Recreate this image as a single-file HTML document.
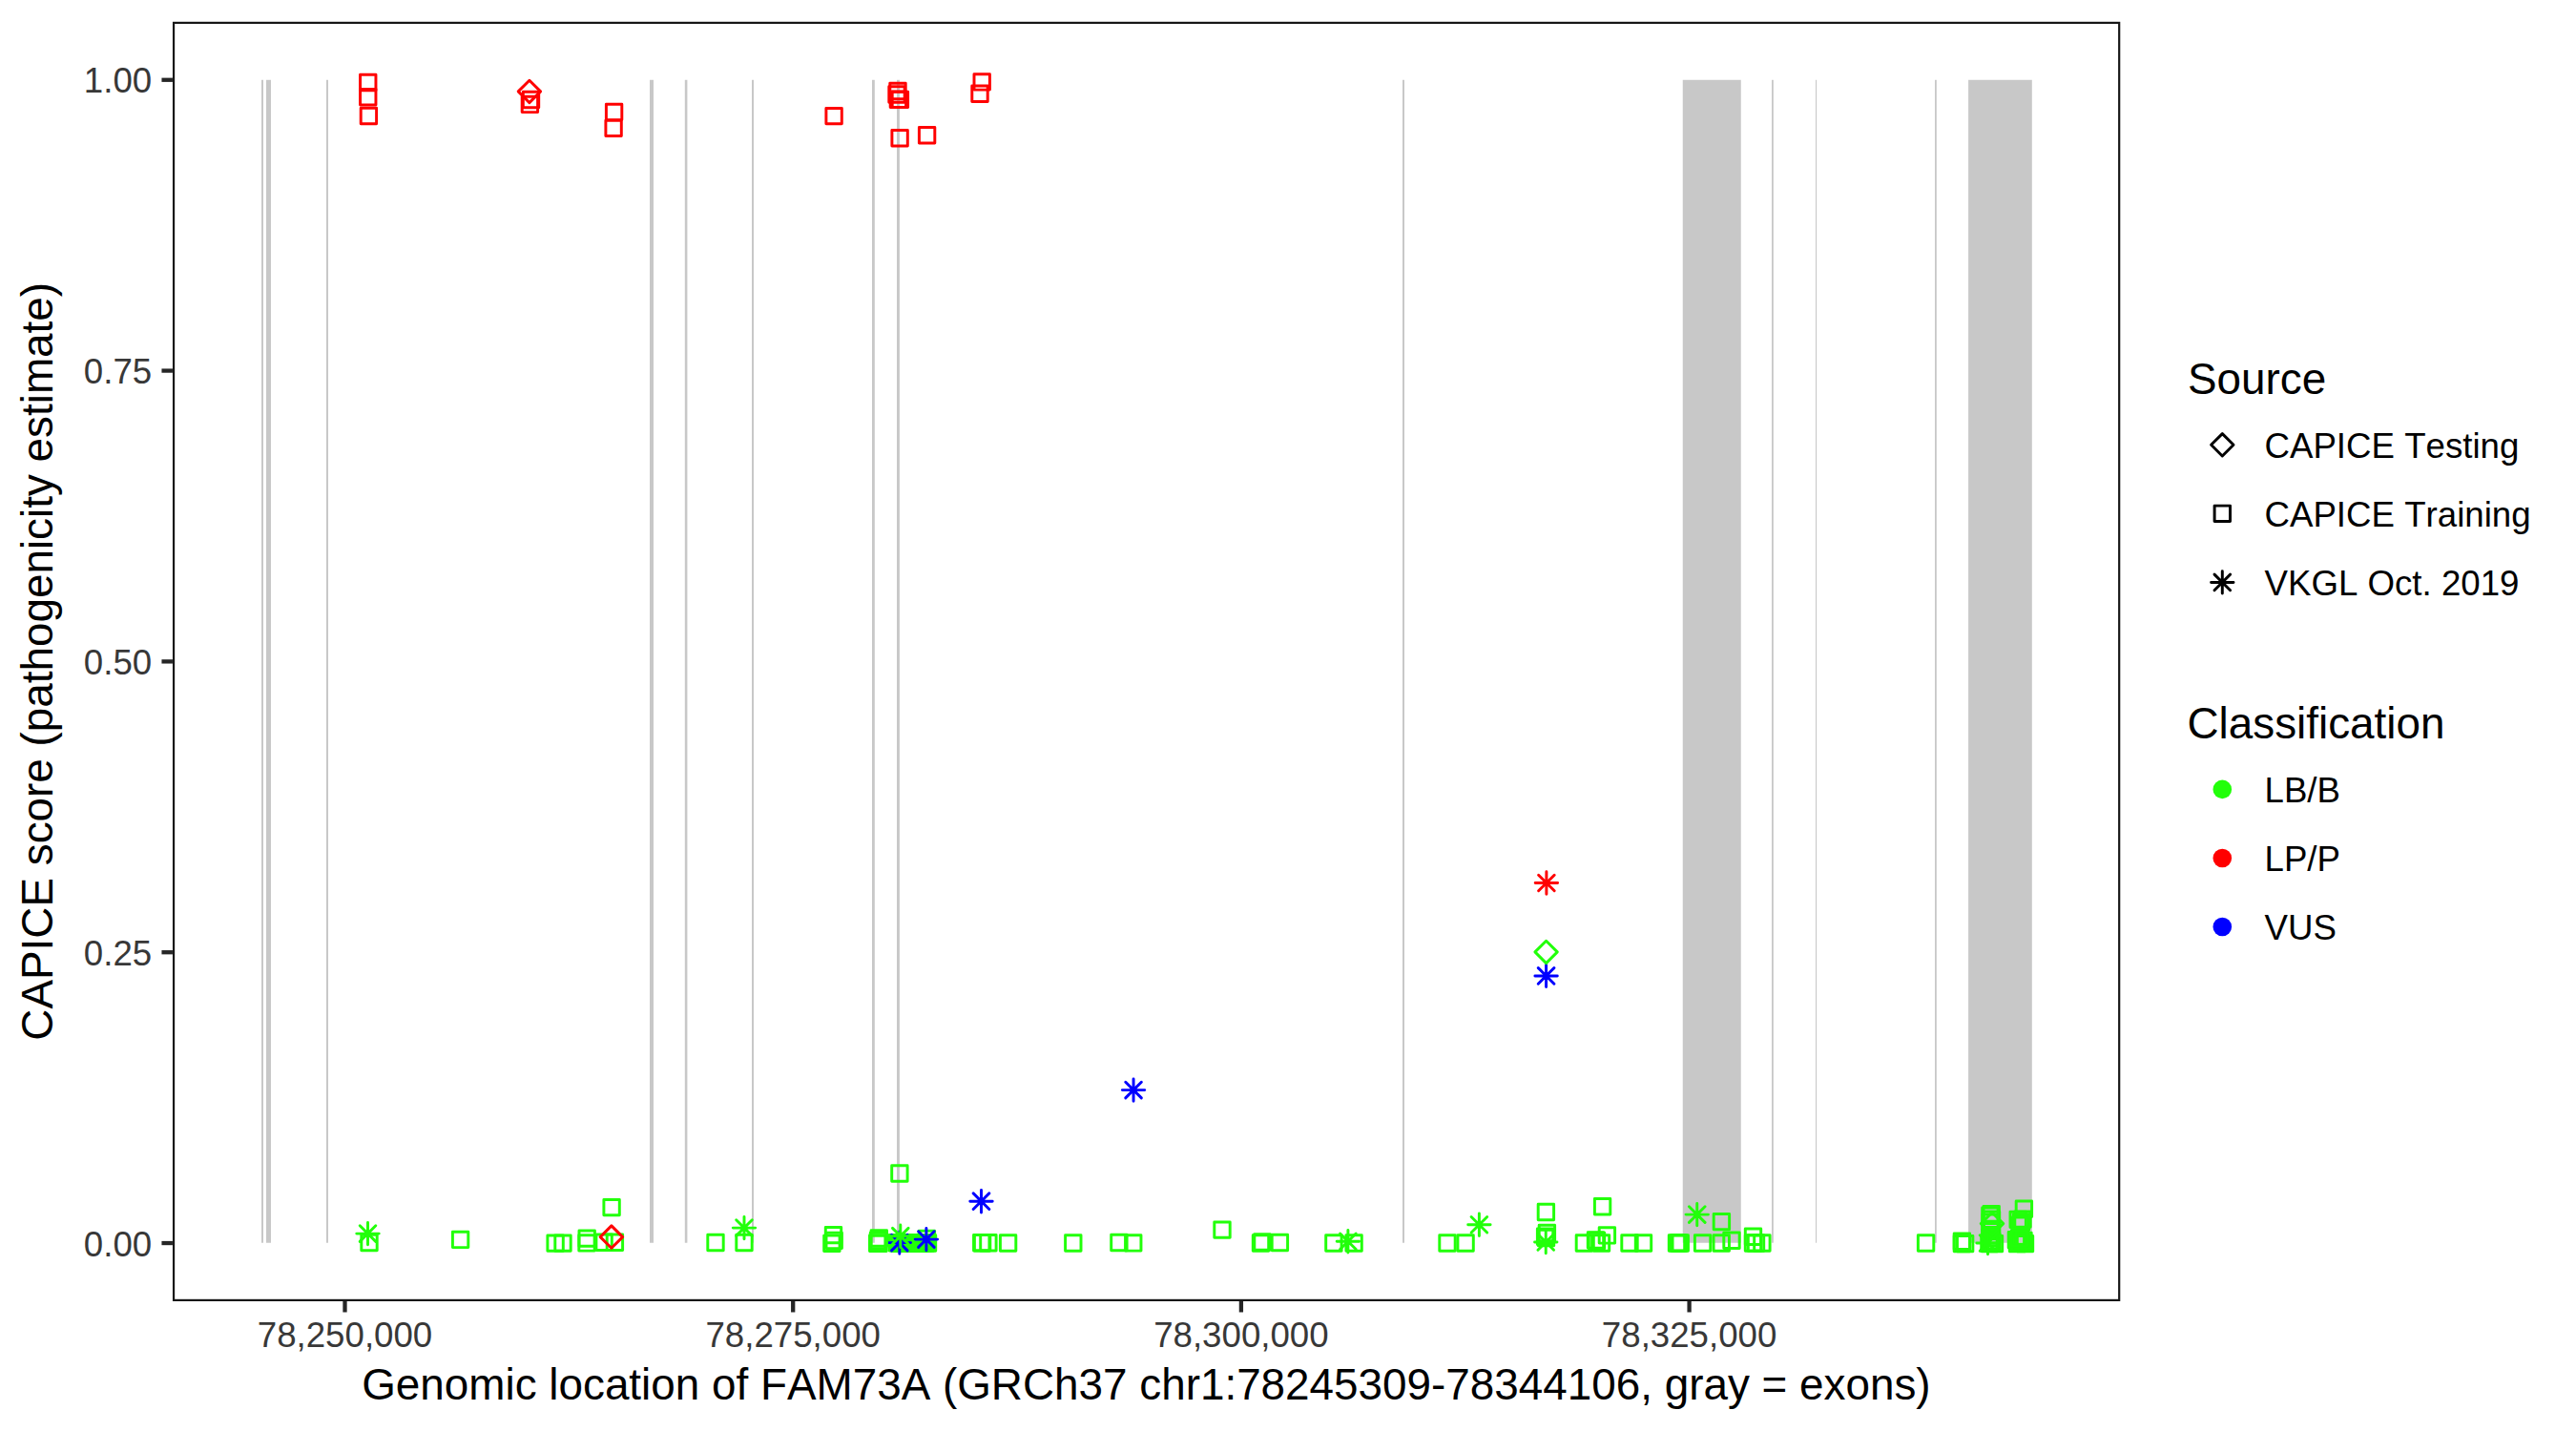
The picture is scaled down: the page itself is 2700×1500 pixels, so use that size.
<!DOCTYPE html>
<html lang="en"><head><meta charset="utf-8"><title>CAPICE score FAM73A</title>
<style>html,body{margin:0;padding:0;background:#fff}svg{display:block}text{font-family:"Liberation Sans",Arial,Helvetica,sans-serif;font-kerning:none}.at{font-size:36.67px;fill:#383838}.tt{font-size:45.83px;fill:#000}.lt{font-size:36.67px;fill:#000}</style></head><body>
<svg width="2700" height="1500" viewBox="0 0 2700 1500">
<rect width="2700" height="1500" fill="#fff"/>
<g fill="#c8c8c8">
<rect x="274" y="83.76" width="2.00" height="1218.97"/>
<rect x="279" y="83.76" width="5.00" height="1218.97"/>
<rect x="342" y="83.76" width="2.00" height="1218.97"/>
<rect x="681" y="83.76" width="4.00" height="1218.97"/>
<rect x="717.8" y="83.76" width="2.60" height="1218.97"/>
<rect x="788" y="83.76" width="2.00" height="1218.97"/>
<rect x="914" y="83.76" width="2.80" height="1218.97"/>
<rect x="940" y="83.76" width="2.90" height="1218.97"/>
<rect x="1470" y="83.76" width="2.00" height="1218.97"/>
<rect x="1763.75" y="83.76" width="61.00" height="1218.97"/>
<rect x="1857" y="83.76" width="1.80" height="1218.97"/>
<rect x="1903" y="83.76" width="1.10" height="1218.97"/>
<rect x="2028" y="83.76" width="1.80" height="1218.97"/>
<rect x="2063.1" y="83.76" width="66.70" height="1218.97"/>
</g>
<g fill="none" stroke-width="2.95" stroke-linejoin="round" stroke-linecap="round">
<rect x="377.55" y="78.30" width="16.4" height="16.4" stroke="#ff0000"/>
<rect x="377.55" y="93.55" width="16.4" height="16.4" stroke="#ff0000"/>
<rect x="378.20" y="113.30" width="16.4" height="16.4" stroke="#ff0000"/>
<rect x="548.30" y="96.30" width="16.4" height="16.4" stroke="#ff0000"/>
<rect x="547.20" y="101.20" width="16.4" height="16.4" stroke="#ff0000"/>
<rect x="635.40" y="109.20" width="16.4" height="16.4" stroke="#ff0000"/>
<rect x="634.90" y="126.20" width="16.4" height="16.4" stroke="#ff0000"/>
<rect x="865.90" y="113.40" width="16.4" height="16.4" stroke="#ff0000"/>
<rect x="932.80" y="87.30" width="16.4" height="16.4" stroke="#ff0000"/>
<rect x="931.80" y="90.80" width="16.4" height="16.4" stroke="#ff0000"/>
<rect x="935.20" y="96.20" width="16.4" height="16.4" stroke="#ff0000"/>
<rect x="933.20" y="96.00" width="16.4" height="16.4" stroke="#ff0000"/>
<rect x="934.90" y="136.50" width="16.4" height="16.4" stroke="#ff0000"/>
<rect x="963.40" y="133.50" width="16.4" height="16.4" stroke="#ff0000"/>
<rect x="1021.00" y="77.70" width="16.4" height="16.4" stroke="#ff0000"/>
<rect x="1018.80" y="90.00" width="16.4" height="16.4" stroke="#ff0000"/>
<rect x="932.10" y="1294.55" width="16.4" height="16.4" stroke="#22ff0a"/>
<rect x="934.40" y="1294.80" width="16.4" height="16.4" stroke="#22ff0a"/>
<rect x="936.70" y="1295.05" width="16.4" height="16.4" stroke="#22ff0a"/>
<rect x="939.00" y="1294.55" width="16.4" height="16.4" stroke="#22ff0a"/>
<rect x="941.30" y="1294.80" width="16.4" height="16.4" stroke="#22ff0a"/>
<rect x="943.60" y="1295.05" width="16.4" height="16.4" stroke="#22ff0a"/>
<rect x="945.90" y="1294.55" width="16.4" height="16.4" stroke="#22ff0a"/>
<rect x="948.20" y="1294.80" width="16.4" height="16.4" stroke="#22ff0a"/>
<rect x="950.50" y="1295.05" width="16.4" height="16.4" stroke="#22ff0a"/>
<rect x="952.80" y="1294.55" width="16.4" height="16.4" stroke="#22ff0a"/>
<rect x="955.10" y="1294.80" width="16.4" height="16.4" stroke="#22ff0a"/>
<rect x="957.40" y="1295.05" width="16.4" height="16.4" stroke="#22ff0a"/>
<rect x="959.70" y="1294.55" width="16.4" height="16.4" stroke="#22ff0a"/>
<rect x="962.00" y="1294.80" width="16.4" height="16.4" stroke="#22ff0a"/>
<rect x="964.30" y="1294.80" width="16.4" height="16.4" stroke="#22ff0a"/>
<path d="M931.10 1302.60H954.50M942.80 1290.90V1314.30M934.50 1294.30L951.10 1310.90M934.50 1310.90L951.10 1294.30" stroke="#0000ff"/>
<rect x="378.80" y="1294.30" width="16.4" height="16.4" stroke="#22ff0a"/>
<rect x="474.40" y="1291.20" width="16.4" height="16.4" stroke="#22ff0a"/>
<rect x="573.90" y="1294.90" width="16.4" height="16.4" stroke="#22ff0a"/>
<rect x="581.80" y="1294.90" width="16.4" height="16.4" stroke="#22ff0a"/>
<rect x="607.00" y="1289.90" width="16.4" height="16.4" stroke="#22ff0a"/>
<rect x="606.80" y="1294.70" width="16.4" height="16.4" stroke="#22ff0a"/>
<rect x="624.90" y="1294.00" width="16.4" height="16.4" stroke="#22ff0a"/>
<rect x="636.20" y="1294.00" width="16.4" height="16.4" stroke="#22ff0a"/>
<rect x="632.90" y="1257.40" width="16.4" height="16.4" stroke="#22ff0a"/>
<rect x="741.80" y="1294.30" width="16.4" height="16.4" stroke="#22ff0a"/>
<rect x="771.80" y="1294.30" width="16.4" height="16.4" stroke="#22ff0a"/>
<rect x="865.30" y="1286.40" width="16.4" height="16.4" stroke="#22ff0a"/>
<rect x="866.00" y="1292.20" width="16.4" height="16.4" stroke="#22ff0a"/>
<rect x="863.70" y="1295.10" width="16.4" height="16.4" stroke="#22ff0a"/>
<rect x="911.50" y="1295.00" width="16.4" height="16.4" stroke="#22ff0a"/>
<rect x="912.80" y="1295.00" width="16.4" height="16.4" stroke="#22ff0a"/>
<rect x="913.10" y="1289.80" width="16.4" height="16.4" stroke="#22ff0a"/>
<rect x="912.30" y="1292.30" width="16.4" height="16.4" stroke="#22ff0a"/>
<rect x="963.20" y="1290.20" width="16.4" height="16.4" stroke="#22ff0a"/>
<rect x="934.70" y="1221.80" width="16.4" height="16.4" stroke="#22ff0a"/>
<rect x="1020.55" y="1294.50" width="16.4" height="16.4" stroke="#22ff0a"/>
<rect x="1021.40" y="1294.50" width="16.4" height="16.4" stroke="#22ff0a"/>
<rect x="1027.70" y="1294.50" width="16.4" height="16.4" stroke="#22ff0a"/>
<rect x="1048.40" y="1294.80" width="16.4" height="16.4" stroke="#22ff0a"/>
<rect x="1116.60" y="1294.80" width="16.4" height="16.4" stroke="#22ff0a"/>
<rect x="1164.70" y="1294.30" width="16.4" height="16.4" stroke="#22ff0a"/>
<rect x="1179.55" y="1294.70" width="16.4" height="16.4" stroke="#22ff0a"/>
<rect x="1272.80" y="1280.90" width="16.4" height="16.4" stroke="#22ff0a"/>
<rect x="1313.30" y="1294.80" width="16.4" height="16.4" stroke="#22ff0a"/>
<rect x="1314.80" y="1293.80" width="16.4" height="16.4" stroke="#22ff0a"/>
<rect x="1333.20" y="1294.30" width="16.4" height="16.4" stroke="#22ff0a"/>
<rect x="1389.70" y="1294.80" width="16.4" height="16.4" stroke="#22ff0a"/>
<rect x="1410.90" y="1294.80" width="16.4" height="16.4" stroke="#22ff0a"/>
<rect x="1508.80" y="1294.80" width="16.4" height="16.4" stroke="#22ff0a"/>
<rect x="1527.90" y="1294.80" width="16.4" height="16.4" stroke="#22ff0a"/>
<rect x="1612.20" y="1262.30" width="16.4" height="16.4" stroke="#22ff0a"/>
<rect x="1613.20" y="1284.20" width="16.4" height="16.4" stroke="#22ff0a"/>
<rect x="1611.40" y="1288.00" width="16.4" height="16.4" stroke="#22ff0a"/>
<rect x="1612.30" y="1289.30" width="16.4" height="16.4" stroke="#22ff0a"/>
<rect x="1652.20" y="1294.80" width="16.4" height="16.4" stroke="#22ff0a"/>
<rect x="1664.30" y="1291.70" width="16.4" height="16.4" stroke="#22ff0a"/>
<rect x="1665.30" y="1292.30" width="16.4" height="16.4" stroke="#22ff0a"/>
<rect x="1676.20" y="1286.70" width="16.4" height="16.4" stroke="#22ff0a"/>
<rect x="1670.30" y="1294.80" width="16.4" height="16.4" stroke="#22ff0a"/>
<rect x="1671.40" y="1256.50" width="16.4" height="16.4" stroke="#22ff0a"/>
<rect x="1699.80" y="1294.80" width="16.4" height="16.4" stroke="#22ff0a"/>
<rect x="1714.30" y="1294.80" width="16.4" height="16.4" stroke="#22ff0a"/>
<rect x="1749.30" y="1294.80" width="16.4" height="16.4" stroke="#22ff0a"/>
<rect x="1751.30" y="1294.80" width="16.4" height="16.4" stroke="#22ff0a"/>
<rect x="1753.05" y="1294.80" width="16.4" height="16.4" stroke="#22ff0a"/>
<rect x="1776.40" y="1294.80" width="16.4" height="16.4" stroke="#22ff0a"/>
<rect x="1796.05" y="1294.80" width="16.4" height="16.4" stroke="#22ff0a"/>
<rect x="1806.80" y="1292.00" width="16.4" height="16.4" stroke="#22ff0a"/>
<rect x="1796.20" y="1272.40" width="16.4" height="16.4" stroke="#22ff0a"/>
<rect x="1829.30" y="1288.05" width="16.4" height="16.4" stroke="#22ff0a"/>
<rect x="1829.30" y="1294.80" width="16.4" height="16.4" stroke="#22ff0a"/>
<rect x="1838.70" y="1294.80" width="16.4" height="16.4" stroke="#22ff0a"/>
<rect x="1832.30" y="1294.80" width="16.4" height="16.4" stroke="#22ff0a"/>
<rect x="2010.40" y="1294.80" width="16.4" height="16.4" stroke="#22ff0a"/>
<rect x="2048.20" y="1293.00" width="16.4" height="16.4" stroke="#22ff0a"/>
<rect x="2048.20" y="1295.40" width="16.4" height="16.4" stroke="#22ff0a"/>
<rect x="2051.45" y="1295.40" width="16.4" height="16.4" stroke="#22ff0a"/>
<rect x="2079.00" y="1264.50" width="16.4" height="16.4" stroke="#22ff0a"/>
<rect x="2077.70" y="1266.00" width="16.4" height="16.4" stroke="#22ff0a"/>
<rect x="2079.30" y="1270.00" width="16.4" height="16.4" stroke="#22ff0a"/>
<rect x="2078.00" y="1273.00" width="16.4" height="16.4" stroke="#22ff0a"/>
<rect x="2079.30" y="1280.20" width="16.4" height="16.4" stroke="#22ff0a"/>
<rect x="2077.70" y="1282.40" width="16.4" height="16.4" stroke="#22ff0a"/>
<rect x="2079.30" y="1286.60" width="16.4" height="16.4" stroke="#22ff0a"/>
<rect x="2077.80" y="1289.30" width="16.4" height="16.4" stroke="#22ff0a"/>
<rect x="2079.30" y="1292.40" width="16.4" height="16.4" stroke="#22ff0a"/>
<rect x="2079.80" y="1294.00" width="16.4" height="16.4" stroke="#22ff0a"/>
<rect x="2077.20" y="1295.40" width="16.4" height="16.4" stroke="#22ff0a"/>
<rect x="2082.30" y="1295.40" width="16.4" height="16.4" stroke="#22ff0a"/>
<rect x="2076.80" y="1295.00" width="16.4" height="16.4" stroke="#22ff0a"/>
<rect x="2113.20" y="1259.00" width="16.4" height="16.4" stroke="#22ff0a"/>
<rect x="2107.00" y="1270.20" width="16.4" height="16.4" stroke="#22ff0a"/>
<rect x="2109.40" y="1276.00" width="16.4" height="16.4" stroke="#22ff0a"/>
<rect x="2111.80" y="1269.90" width="16.4" height="16.4" stroke="#22ff0a"/>
<rect x="2110.30" y="1272.80" width="16.4" height="16.4" stroke="#22ff0a"/>
<rect x="2105.20" y="1291.50" width="16.4" height="16.4" stroke="#22ff0a"/>
<rect x="2107.30" y="1292.80" width="16.4" height="16.4" stroke="#22ff0a"/>
<rect x="2109.30" y="1294.10" width="16.4" height="16.4" stroke="#22ff0a"/>
<rect x="2111.80" y="1294.80" width="16.4" height="16.4" stroke="#22ff0a"/>
<rect x="2114.30" y="1295.40" width="16.4" height="16.4" stroke="#22ff0a"/>
<rect x="2109.30" y="1287.80" width="16.4" height="16.4" stroke="#22ff0a"/>
<rect x="2106.30" y="1295.30" width="16.4" height="16.4" stroke="#22ff0a"/>
<rect x="2112.80" y="1292.30" width="16.4" height="16.4" stroke="#22ff0a"/>
<rect x="2108.30" y="1289.80" width="16.4" height="16.4" stroke="#22ff0a"/>
<path d="M373.80 1293.10H397.20M385.50 1281.40V1304.80M377.20 1284.80L393.80 1301.40M377.20 1301.40L393.80 1284.80" stroke="#22ff0a"/>
<path d="M768.30 1287.10H791.70M780.00 1275.40V1298.80M771.70 1278.80L788.30 1295.40M771.70 1295.40L788.30 1278.80" stroke="#22ff0a"/>
<path d="M932.10 1295.70H955.50M943.80 1284.00V1307.40M935.50 1287.40L952.10 1304.00M935.50 1304.00L952.10 1287.40" stroke="#22ff0a"/>
<path d="M1401.20 1301.25H1424.60M1412.90 1289.55V1312.95M1404.60 1292.95L1421.20 1309.55M1404.60 1309.55L1421.20 1292.95" stroke="#22ff0a"/>
<path d="M1538.70 1283.75H1562.10M1550.40 1272.05V1295.45M1542.10 1275.45L1558.70 1292.05M1542.10 1292.05L1558.70 1275.45" stroke="#22ff0a"/>
<path d="M1608.55 1302.00H1631.95M1620.25 1290.30V1313.70M1611.95 1293.70L1628.55 1310.30M1611.95 1310.30L1628.55 1293.70" stroke="#22ff0a"/>
<path d="M1767.05 1273.10H1790.45M1778.75 1261.40V1284.80M1770.45 1264.80L1787.05 1281.40M1770.45 1281.40L1787.05 1264.80" stroke="#22ff0a"/>
<path d="M2071.80 1303.00H2095.20M2083.50 1291.30V1314.70M2075.20 1294.70L2091.80 1311.30M2075.20 1311.30L2091.80 1294.70" stroke="#22ff0a"/>
<path d="M959.20 1299.10H982.60M970.90 1287.40V1310.80M962.60 1290.80L979.20 1307.40M962.60 1307.40L979.20 1290.80" stroke="#0000ff"/>
<path d="M1016.80 1259.20H1040.20M1028.50 1247.50V1270.90M1020.20 1250.90L1036.80 1267.50M1020.20 1267.50L1036.80 1250.90" stroke="#0000ff"/>
<path d="M1176.35 1142.60H1199.75M1188.05 1130.90V1154.30M1179.75 1134.30L1196.35 1150.90M1179.75 1150.90L1196.35 1134.30" stroke="#0000ff"/>
<path d="M1608.90 1022.90H1632.30M1620.60 1011.20V1034.60M1612.30 1014.60L1628.90 1031.20M1612.30 1031.20L1628.90 1014.60" stroke="#0000ff"/>
<path d="M543.20 95.90L554.90 84.20L566.60 95.90L554.90 107.60Z" stroke="#ff0000"/>
<path d="M629.20 1296.60L640.90 1284.90L652.60 1296.60L640.90 1308.30Z" stroke="#ff0000"/>
<path d="M1609.20 925.50H1632.60M1620.90 913.80V937.20M1612.60 917.20L1629.20 933.80M1612.60 933.80L1629.20 917.20" stroke="#ff0000"/>
<path d="M1608.90 997.90L1620.60 986.20L1632.30 997.90L1620.60 1009.60Z" stroke="#22ff0a"/>
<path d="M2076.30 1282.60L2088.00 1270.90L2099.70 1282.60L2088.00 1294.30Z" stroke="#22ff0a"/>
</g>
<rect x="182.04999999999998" y="23.900000000000002" width="2039.15" height="1339.0" fill="none" stroke="#161616" stroke-width="2.2"/>
<g stroke="#262626" stroke-width="4.3">
<line x1="169.45" x2="180.95" y1="1303.04" y2="1303.04"/>
<line x1="169.45" x2="180.95" y1="998.22" y2="998.22"/>
<line x1="169.45" x2="180.95" y1="693.40" y2="693.40"/>
<line x1="169.45" x2="180.95" y1="388.58" y2="388.58"/>
<line x1="169.45" x2="180.95" y1="83.76" y2="83.76"/>
<line x1="361.5" x2="361.5" y1="1364.0" y2="1375.5"/>
<line x1="831.2" x2="831.2" y1="1364.0" y2="1375.5"/>
<line x1="1300.9" x2="1300.9" y1="1364.0" y2="1375.5"/>
<line x1="1770.6" x2="1770.6" y1="1364.0" y2="1375.5"/>
</g>
<g class="at" text-anchor="end">
<text x="159.2" y="1316.54">0.00</text>
<text x="159.2" y="1011.72">0.25</text>
<text x="159.2" y="706.90">0.50</text>
<text x="159.2" y="402.08">0.75</text>
<text x="159.2" y="97.26">1.00</text>
</g><g class="at" text-anchor="middle">
<text x="361.5" y="1411.9">78,250,000</text>
<text x="831.2" y="1411.9">78,275,000</text>
<text x="1300.9" y="1411.9">78,300,000</text>
<text x="1770.6" y="1411.9">78,325,000</text>
</g>
<text class="tt" text-anchor="middle" x="1201.4" y="1466.8">Genomic location of FAM73A (GRCh37 chr1:78245309-78344106, gray = exons)</text>
<text class="tt" text-anchor="middle" transform="translate(55.2 693.3) rotate(-90)">CAPICE score (pathogenicity estimate)</text>
<text class="tt" x="2293" y="413.4">Source</text>
<text class="tt" x="2292.5" y="774.1">Classification</text>
<g fill="none" stroke-width="2.95" stroke-linejoin="round" stroke-linecap="round">
<path d="M2317.60 466.30L2329.30 454.60L2341.00 466.30L2329.30 478.00Z" stroke="#000"/>
<rect x="2321.10" y="530.10" width="16.4" height="16.4" stroke="#000"/>
<path d="M2317.60 610.40H2341.00M2329.30 598.70V622.10M2321.00 602.10L2337.60 618.70M2321.00 618.70L2337.60 602.10" stroke="#000"/>
</g>
<circle cx="2329.3" cy="827.4" r="9.8" fill="#22ff0a"/>
<circle cx="2329.3" cy="899.5" r="9.8" fill="#ff0000"/>
<circle cx="2329.3" cy="971.5" r="9.8" fill="#0000ff"/>
<g class="lt">
<text x="2373.5" y="480">CAPICE Testing</text>
<text x="2373.5" y="552">CAPICE Training</text>
<text x="2373.5" y="624">VKGL Oct. 2019</text>
<text x="2373.5" y="841">LB/B</text>
<text x="2373.5" y="913">LP/P</text>
<text x="2373.5" y="985">VUS</text>
</g>
</svg></body></html>
